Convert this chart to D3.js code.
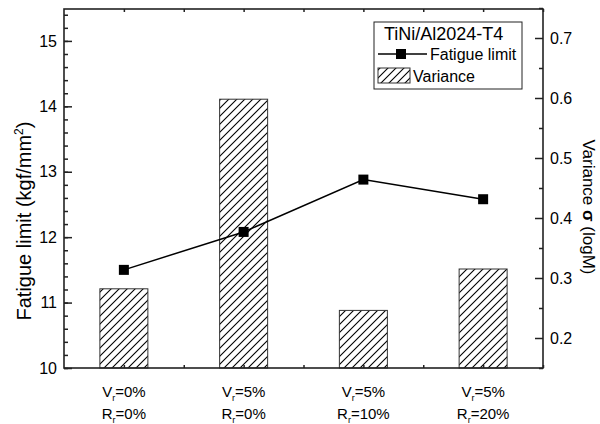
<!DOCTYPE html>
<html>
<head>
<meta charset="utf-8">
<script src="https://cdn.jsdelivr.net/npm/d3@7"></script>
<style>
  body { margin: 0; background: #fff; }
  svg { display: block; font-family: "Liberation Sans", Arial, sans-serif; }
</style>
</head>
<body>
<svg id="chart" width="600" height="424"></svg>
<script>
// ---- data ----
const categories = ["c1", "c2", "c3", "c4"];
const vrLabels = ["0%", "5%", "5%", "5%"];
const rrLabels = ["0%", "0%", "10%", "20%"];
const fatigueLimit = [11.50, 12.08, 12.88, 12.58];
const variance = [0.282, 0.598, 0.246, 0.315];
const leftTicks = [10, 11, 12, 13, 14, 15];
const rightTicks = [0.2, 0.3, 0.4, 0.5, 0.6, 0.7];
const legendTitle = "TiNi/Al2024-T4";
const legendLabels = ["Fatigue limit", "Variance"];

// ---- layout ----
const svg = d3.select("#chart");
const L = 64, R = 543, T = 9, B = 368;

const x = d3.scaleLinear().domain([0.5, categories.length + 0.5]).range([L, R]);
const yL = d3.scaleLinear().domain([10, 15.5]).range([B, T - 0.8]);
const yR = d3.scaleLinear().domain([0.15, 0.75]).range([B, T - 1]);

const defs = svg.append("defs");
const pat = defs.append("pattern")
  .attr("id", "hatch").attr("patternUnits", "userSpaceOnUse")
  .attr("width", 8).attr("height", 8);
pat.append("path")
  .attr("d", "M0,8 L8,0 M-2,2 L2,-2 M6,10 L10,6")
  .attr("stroke", "#000").attr("stroke-width", 1.1).attr("fill", "none");

// bars
const bw = 48;
svg.append("g").selectAll("rect").data(variance).join("rect")
  .attr("x", (d, i) => x(i + 1) - bw / 2)
  .attr("y", d => yR(d))
  .attr("width", bw)
  .attr("height", d => B - yR(d))
  .attr("fill", "url(#hatch)")
  .attr("stroke", "#333").attr("stroke-width", 1);

// line
const line = d3.line().x((d, i) => x(i + 1)).y(d => yL(d));
svg.append("path").datum(fatigueLimit)
  .attr("d", line).attr("fill", "none")
  .attr("stroke", "#000").attr("stroke-width", 1.5);
svg.append("g").selectAll("rect").data(fatigueLimit).join("rect")
  .attr("x", (d, i) => x(i + 1) - 5)
  .attr("y", d => yL(d) - 5)
  .attr("width", 10).attr("height", 10)
  .attr("fill", "#000");

// frame
svg.append("rect").attr("x", L).attr("y", T).attr("width", R - L).attr("height", B - T)
  .attr("fill", "none").attr("stroke", "#222").attr("stroke-width", 1.6);

// axes
const axisStyle = g => {
  g.select(".domain").remove();
  g.selectAll("line").attr("stroke", "#222").attr("stroke-width", 1.5);
  g.selectAll("text").attr("fill", "#000").style("font-size", "16px")
    .style("font-family", "'Liberation Sans', Arial, sans-serif");
};

// left minor
const leftMinor = d3.range(10, 15.51, 0.2).map(v => +v.toFixed(1));
svg.append("g").attr("transform", `translate(${L},0)`)
  .call(d3.axisRight(yL).tickValues(leftMinor).tickSize(4).tickFormat(""))
  .call(axisStyle);
svg.append("g").attr("transform", `translate(${L},0)`)
  .call(d3.axisLeft(yL).tickValues(leftTicks).tickSize(0).tickPadding(7).tickFormat(d3.format("d")))
  .call(axisStyle);
svg.append("g").attr("transform", `translate(${L},0)`)
  .call(d3.axisRight(yL).tickValues(leftTicks).tickSize(8).tickFormat(""))
  .call(axisStyle);

// right
const rightMinor = d3.range(0.15, 0.751, 0.1).map(v => +v.toFixed(2));
svg.append("g").attr("transform", `translate(${R},0)`)
  .call(d3.axisLeft(yR).tickValues(rightMinor).tickSize(4).tickFormat(""))
  .call(axisStyle);
svg.append("g").attr("transform", `translate(${R},0)`)
  .call(d3.axisLeft(yR).tickValues(rightTicks).tickSize(8).tickFormat(""))
  .call(axisStyle);
svg.append("g").attr("transform", `translate(${R},0)`)
  .call(d3.axisRight(yR).tickValues(rightTicks).tickSize(0).tickPadding(7).tickFormat(d3.format(".1f")))
  .call(axisStyle);

// bottom/top ticks
const xTicks = d3.range(1, categories.length + 0.6, 0.5);
svg.append("g").attr("transform", `translate(0,${B})`)
  .call(d3.axisTop(x).tickValues(xTicks).tickSize(3).tickFormat(""))
  .call(axisStyle);
svg.append("g").attr("transform", `translate(0,${T})`)
  .call(d3.axisBottom(x).tickValues(xTicks).tickSize(3).tickFormat(""))
  .call(axisStyle);

// x labels
const xl = svg.append("g").style("font-size", "15px").attr("fill", "#000");
categories.forEach((c, i) => {
  const t1 = xl.append("text").attr("x", x(i + 1)).attr("y", 397).attr("text-anchor", "middle");
  t1.append("tspan").text("V");
  t1.append("tspan").text("r").style("font-size", "9px").attr("dy", 4);
  t1.append("tspan").text("=" + vrLabels[i]).attr("dy", -4);
  const t2 = xl.append("text").attr("x", x(i + 1)).attr("y", 419).attr("text-anchor", "middle");
  t2.append("tspan").text("R");
  t2.append("tspan").text("r").style("font-size", "9px").attr("dy", 4);
  t2.append("tspan").text("=" + rrLabels[i]).attr("dy", -4);
});

// axis titles
const lt = svg.append("text").attr("transform", "translate(31,221) rotate(-90)")
  .attr("text-anchor", "middle").style("font-size", "20px").attr("fill", "#000");
lt.append("tspan").text("Fatigue limit (kgf/mm");
lt.append("tspan").text("2").style("font-size", "12px").attr("dy", -8);
lt.append("tspan").text(")").attr("dy", 8);

const rt = svg.append("text").attr("transform", "translate(583,207) rotate(90)")
  .attr("text-anchor", "middle").style("font-size", "17px").attr("fill", "#000");
rt.append("tspan").text("Variance ");
rt.append("tspan").text("σ").style("font-weight", "bold");
rt.append("tspan").text(" (logM)");

// legend
const lg = svg.append("g");
lg.append("rect").attr("x", 374).attr("y", 22).attr("width", 148).attr("height", 67)
  .attr("fill", "#fff").attr("stroke", "#222").attr("stroke-width", 1);
lg.append("text").attr("x", 384).attr("y", 40).text(legendTitle)
  .style("font-size", "18px").attr("fill", "#000");
lg.append("line").attr("x1", 378).attr("x2", 427).attr("y1", 54).attr("y2", 54)
  .attr("stroke", "#000").attr("stroke-width", 1.5);
lg.append("rect").attr("x", 396).attr("y", 49).attr("width", 10).attr("height", 10).attr("fill", "#000");
lg.append("text").attr("x", 430).attr("y", 60).text(legendLabels[0])
  .style("font-size", "16px").attr("fill", "#000");
lg.append("rect").attr("x", 378).attr("y", 68).attr("width", 32).attr("height", 15)
  .attr("fill", "url(#hatch)").attr("stroke", "#333").attr("stroke-width", 1);
lg.append("text").attr("x", 413).attr("y", 82).text(legendLabels[1])
  .style("font-size", "16px").attr("fill", "#000");
</script>
</body>
</html>
